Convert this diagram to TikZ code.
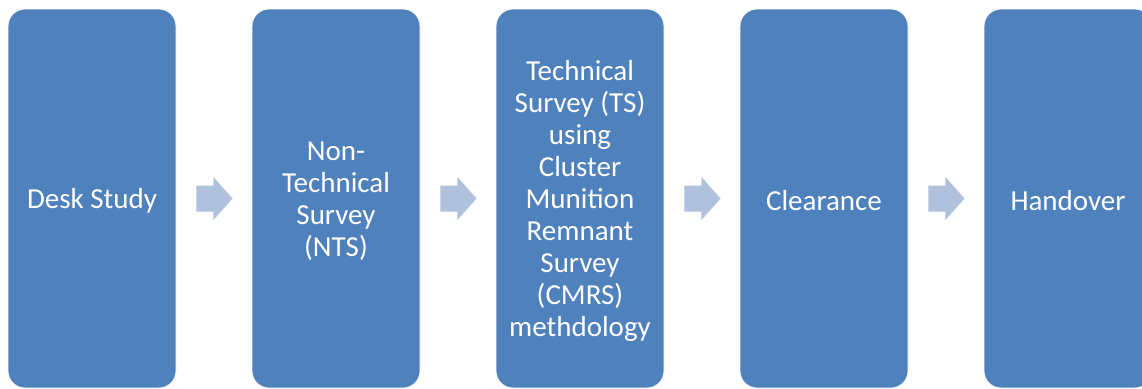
\documentclass[tikz,border=0pt]{standalone}
\usepackage{fontspec}
\setmainfont{Carlito}
\usetikzlibrary{calc}
\definecolor{boxblue}{HTML}{4F81BD}
\definecolor{arrowblue}{HTML}{B0C1DE}
\tikzset{
  stagebox/.style={fill=boxblue, draw=white, line width=0.8pt, rounded corners=17pt,
    minimum width=168pt, minimum height=379pt, inner sep=0pt},
  stagetext/.style={text=white, align=center, inner sep=0pt,
    font=\fontsize{29}{32.1}\selectfont},
  flowarrow/.style={fill=arrowblue, draw=none}
}
\newcommand{\flowarr}[2]{%
  \fill[flowarrow] ($(#1.east)+(20pt,-13pt)$) -- ($(#1.east)+(37pt,-13pt)$)
    -- ($(#1.east)+(37pt,-21.5pt)$) -- ($(#2.west)+(-19pt,0pt)$)
    -- ($(#1.east)+(37pt,21.5pt)$) -- ($(#1.east)+(37pt,13pt)$)
    -- ($(#1.east)+(20pt,13pt)$) -- cycle;}
\newcommand{\stage}[3]{%
  \node[stagebox] (#1) at (#2,198.5) {};
  \node[stagetext] (#1t) at ($(#1.center)+(0,2.5)$) {#3};}
\begin{document}
\begin{tikzpicture}[x=1pt,y=-1pt]
\useasboundingbox (0,0) rectangle (1142,388);
\stage{b1}{92}{Desk Study}
\stage{b2}{336}{Non-\\Technical\\Survey\\(NTS)}
\stage{b3}{580}{Technical\\Survey (TS)\\using\\Cluster\\Munition\\Remnant\\Survey\\(CMRS)\\methdology}
\stage{b4}{824}{Clearance}
\stage{b5}{1068}{Handover}
\flowarr{b1}{b2}
\flowarr{b2}{b3}
\flowarr{b3}{b4}
\flowarr{b4}{b5}
\end{tikzpicture}
\end{document}
